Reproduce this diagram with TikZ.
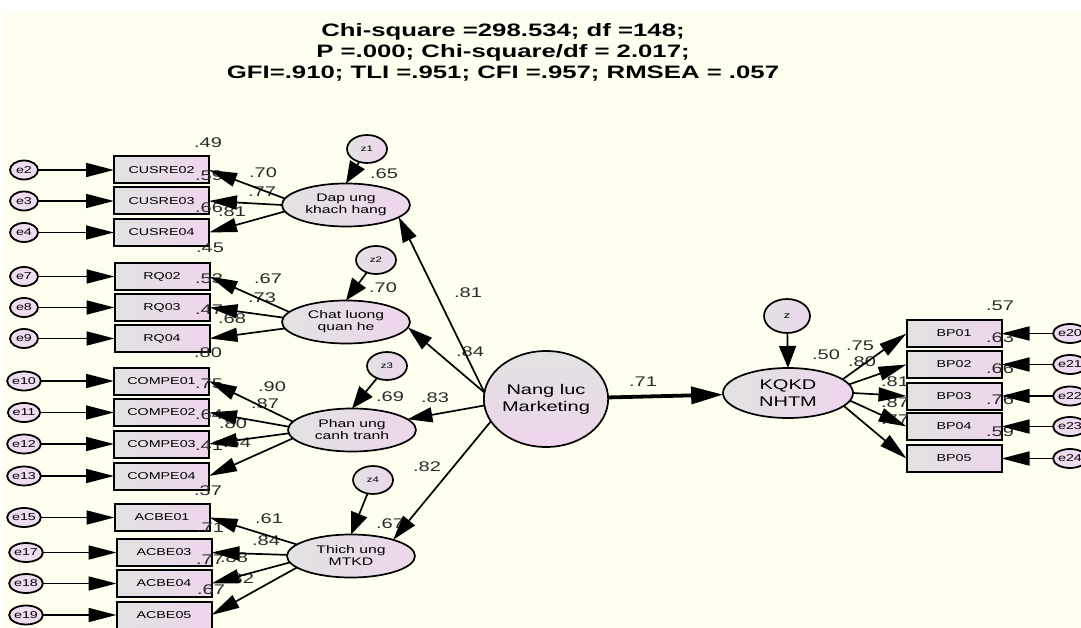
\documentclass[tikz,border=0pt]{standalone}
\usepackage{fontspec}
\setmainfont{Liberation Sans}
\usepackage{graphicx}
\usetikzlibrary{arrows.meta,shapes.geometric}
\definecolor{bgc}{HTML}{FFFFF0}
\definecolor{ngray}{HTML}{E2E2E2}
\definecolor{npink}{HTML}{EDD6EC}
\definecolor{epink}{HTML}{F0DCF0}
\definecolor{labc}{HTML}{2A2A2A}
\newcommand{\sx}[1]{\scalebox{1.43}[1]{#1}}
\begin{document}
\begin{tikzpicture}[x=1pt,y=-1pt,
  every node/.style={inner sep=0pt,outer sep=0pt},
  obox/.style={draw,line width=2pt,rectangle,minimum width=95pt,minimum height=27pt,
    left color=ngray,right color=npink,font=\fontsize{10}{12}\selectfont},
  lat/.style={draw,line width=1.7pt,ellipse,minimum width=128pt,minimum height=43pt,
    left color=ngray,right color=npink,align=center,font=\fontsize{11}{12}\selectfont},
  errc/.style={draw,line width=1.8pt,ellipse,minimum width=28pt,minimum height=19pt,
    fill=epink,font=\fontsize{10}{12}\selectfont},
  zc/.style={draw,line width=1.7pt,ellipse,minimum width=40pt,minimum height=28pt,
    left color=ngray,right color=npink,font=\fontsize{8}{10}\selectfont},
  lab/.style={text=labc,font=\fontsize{14}{16}\selectfont},
  arr/.style={line width=1.7pt,-{Triangle[length=28pt,width=14pt]}},
  darr/.style={line width=1.7pt,-{Triangle[length=25pt,width=15pt]}},
  zarr/.style={line width=1.7pt,-{Triangle[length=22pt,width=17pt]}},
  bigarr/.style={line width=3.8pt,-{Triangle[length=32pt,width=17pt]}}
]
\useasboundingbox (0,0) rectangle (1081,628);
\fill[bgc] (3,12) rectangle (1081,628);

% title
\node[align=center,font=\bfseries\fontsize{18}{21}\selectfont] (title) at (503,52)
  {\sx{Chi-square =298.534; df =148;}\\\sx{P =.000; Chi-square/df = 2.017;}\\\sx{GFI=.910; TLI =.951; CFI =.957; RMSEA = .057}};

% latent variables
\node[lat] (dap) at (346,205) {\sx{Dap ung}\\\sx{khach hang}};
\node[lat] (chat) at (346,322) {\sx{Chat luong}\\\sx{quan he}};
\node[lat] (phan) at (352,430) {\sx{Phan ung}\\\sx{canh tranh}};
\node[lat] (thich) at (351,556) {\sx{Thich ung}\\\sx{MTKD}};
\node[draw,line width=1.7pt,ellipse,minimum width=100pt,minimum height=96pt,
  top color=ngray,bottom color=npink,align=center,font=\fontsize{14}{17}\selectfont]
  (nl) at (546,399) {\sx{Nang luc}\\\sx{Marketing}};
\node[draw,line width=1.7pt,ellipse,minimum width=130pt,minimum height=50pt,
  left color=ngray,right color=npink,align=center,font=\fontsize{14}{17}\selectfont]
  (kq) at (788,393) {\sx{KQKD}\\\sx{NHTM}};

% disturbances
\node[zc] (z1) at (367,149) {\sx{z1}};
\node[zc] (z2) at (376,260) {\sx{z2}};
\node[zc] (z3) at (387,366) {\sx{z3}};
\node[zc] (z4) at (373,480) {\sx{z4}};
\node[zc,minimum width=46pt,minimum height=34pt,font=\fontsize{9}{10}\selectfont] (zk) at (787,316) {\sx{z}};

% observed boxes, left
\node[obox] (cusre02) at (161.5,170) {\sx{CUSRE02}};
\node[obox] (cusre03) at (161.5,201) {\sx{CUSRE03}};
\node[obox] (cusre04) at (161.5,232.5) {\sx{CUSRE04}};
\node[obox] (rq02) at (162,276.5) {\sx{RQ02}};
\node[obox] (rq03) at (162,307.5) {\sx{RQ03}};
\node[obox] (rq04) at (162,338.5) {\sx{RQ04}};
\node[obox] (compe01) at (161.5,381) {\sx{COMPE01}};
\node[obox] (compe02) at (161.5,412.5) {\sx{COMPE02}};
\node[obox] (compe03) at (161.5,444) {\sx{COMPE03}};
\node[obox] (compe04) at (161.5,476) {\sx{COMPE04}};
\node[obox] (acbe01) at (162,517.5) {\sx{ACBE01}};
\node[obox] (acbe03) at (164,552.5) {\sx{ACBE03}};
\node[obox] (acbe04) at (164,583.5) {\sx{ACBE04}};
\node[obox] (acbe05) at (164,615) {\sx{ACBE05}};

% observed boxes, right
\node[obox] (bp01) at (954,333.5) {\sx{BP01}};
\node[obox] (bp02) at (954,364.5) {\sx{BP02}};
\node[obox] (bp03) at (954,396) {\sx{BP03}};
\node[obox] (bp04) at (954,426.5) {\sx{BP04}};
\node[obox] (bp05) at (954,458.5) {\sx{BP05}};

% error terms
\foreach \nm/\tx/\xx/\yy in {e2/e2/24/170,e3/e3/24/201,e4/e4/24/232.5,
  e7/e7/24/276.5,e8/e8/24/307.5,e9/e9/24/338.5,
  e10/e10/24/381,e11/e11/24/412.5,e12/e12/24/444,e13/e13/24/476,
  e15/e15/24/517.5,e17/e17/26/552.5,e18/e18/26/583.5,e19/e19/26/615,
  e20/e20/1070/333.5,e21/e21/1070/364.5,e22/e22/1070/396,e23/e23/1070/426.5,e24/e24/1070/458.5}
  \node[errc] (\nm) at (\xx,\yy) {\sx{\tx}};

% numeric labels
\foreach \txt/\xx/\yy [count=\i] in {
  .49/208/143,.59/209/176,.66/209/208,.70/263/173,.77/262/192,.81/232/212,.65/384/174,
  .45/210/248,.53/209/279,.47/209/310,.67/268/279,.73/262/298,.68/232/319,.70/383/288,
  .80/208/353,.75/209/384,.64/209/415,.41/209/446,.90/272/387,.87/265/404,.80/233/424,.64/237/443,.69/390/397,
  .37/208/491,.71/210/528,.77/210/560,.67/211/590,.61/269/519,.84/266/541,.88/234/558,.82/240/579,.67/390/524,
  .81/468/293,.84/470/352,.83/435/398,.82/427/467,.71/643/382,
  .50/826/355,.75/860/346,.80/862/362,.81/895/382,.87/895/403,.77/895/420,
  .57/1000/306,.63/1000/338,.66/1000/369,.76/1000/400,.59/1000/432}
  \node[lab] (lab\i) at (\xx,\yy) {\sx{\txt}};

% error arrows
\foreach \e/\b in {e2/cusre02,e3/cusre03,e4/cusre04,e7/rq02,e8/rq03,e9/rq04,
  e10/compe01,e11/compe02,e12/compe03,e13/compe04,
  e15/acbe01,e17/acbe03,e18/acbe04,e19/acbe05,
  e20/bp01,e21/bp02,e22/bp03,e23/bp04,e24/bp05}
  \draw[arr] (\e) -- (\b);

% loadings
\draw[arr] (dap.174) -- (cusre02.east);
\draw[arr] (dap.180) -- (cusre03.east);
\draw[arr] (dap.186) -- (cusre04.east);
\draw[arr] (chat.170) -- (rq02.east);
\draw[arr] (chat.176) -- (rq03.east);
\draw[arr] (chat.186) -- (rq04.east);
\draw[arr] (phan.172) -- (compe01.east);
\draw[arr] (phan.177) -- (compe02.east);
\draw[arr] (phan.183) -- (compe03.east);
\draw[arr] (phan.188) -- (compe04.east);
\draw[arr] (thich.168) -- (acbe01.east);
\draw[arr] (thich.179) -- (acbe03.east);
\draw[arr] (thich.186) -- (acbe04.east);
\draw[arr] (thich.192) -- (acbe05.east);
\draw[arr] (kq.14) -- (bp01.west);
\draw[arr] (kq.8) -- (bp02.west);
\draw[arr] (kq.0) -- (bp03.west);
\draw[arr] (kq.-7) -- (bp04.west);
\draw[arr] (kq.-13) -- (bp05.west);

% disturbance arrows
\draw[zarr] (z1) -- (dap.north);
\draw[zarr] (z2) -- (chat.north);
\draw[zarr] (z3) -- (phan.north);
\draw[zarr] (z4) -- (thich.north);
\draw[zarr] (zk) -- (kq.north);

% structural paths
\draw[darr] (nl.174) -- (dap.-13);
\draw[darr] (nl.174) -- (chat.-5);
\draw[darr] (nl.186) -- (phan.11);
\draw[darr] (nl.202) -- (thich.21);
\draw[bigarr] (nl) -- (kq);
\end{tikzpicture}
\end{document}
